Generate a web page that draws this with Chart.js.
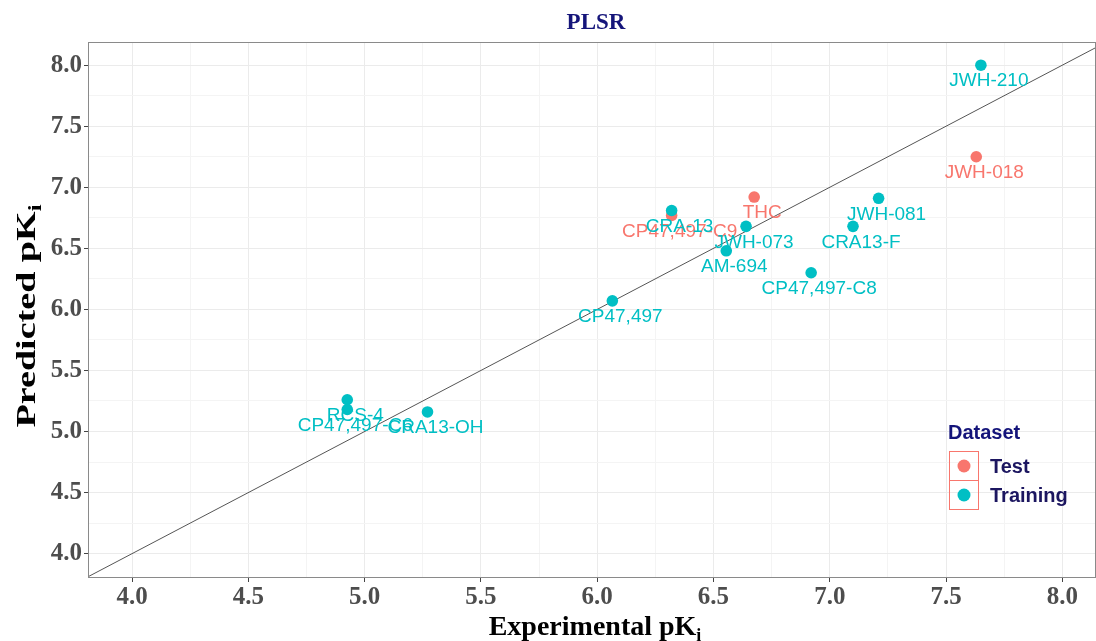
<!DOCTYPE html>
<html>
<head>
<meta charset="utf-8">
<title>PLSR</title>
<script src="https://cdn.jsdelivr.net/npm/chart.js@4.4.1/dist/chart.umd.min.js"></script>
<style>
    html, body { margin: 0; padding: 0; background: #fff; overflow: hidden; }
    canvas { display: block; }
</style>
</head>
<body>
<canvas id="plsr" width="1096" height="641"></canvas>
<script>
// data
const testNames = ['JWH-018', 'THC', 'CP47,497-C9'];
const testX = [7.63, 6.675, 6.32];
const testY = [7.25, 6.92, 6.77];

const trainNames = ['JWH-210', 'CRA-13', 'JWH-073', 'AM-694', 'JWH-081', 'CRA13-F',
    'CP47,497-C8', 'CP47,497', 'RCS-4', 'CP47,497-C6', 'CRA13-OH'];
const trainX = [7.65, 6.32, 6.64, 6.555, 7.21, 7.10, 6.92, 6.065, 4.925, 4.925, 5.27];
const trainY = [8.00, 6.81, 6.68, 6.48, 6.91, 6.68, 6.30, 6.07, 5.26, 5.18, 5.16];

const xRange = [3.81, 8.145];
const yRange = [3.8, 8.19];

const testColor = '#F8766D';
const trainColor = '#00BFC4';

function toPoints(xs, ys) {
    return xs.map((x, i) => ({ x: x, y: ys[i] }));
}

function isMajor(v) {
    return Math.abs(v * 2 - Math.round(v * 2)) < 1e-6;
}

// ggplot style grid: a line every 0.25, labels every 0.5
function quarterTicks(scale) {
    const ticks = [];
    for (let k = Math.ceil(scale.min * 4); k <= Math.floor(scale.max * 4); k++) {
        ticks.push({ value: k / 4 });
    }
    scale.ticks = ticks;
}

// panel border + titles + legend, drawn by hand
const decorations = {
    id: 'decorations',
    afterDraw(chart) {
        const c = chart.ctx;
        const a = chart.chartArea;
        c.save();
        c.strokeStyle = '#8a8a8a';
        c.lineWidth = 1;
        c.strokeRect(a.left + 0.5, a.top + 0.5, a.right - a.left - 1, a.bottom - a.top - 1);

        // main title
        c.fillStyle = '#15157a';
        c.font = 'bold 23px "Liberation Serif"';
        c.textAlign = 'center';
        c.textBaseline = 'alphabetic';
        c.fillText('PLSR', 596, 29);

        // axis titles with subscript i
        c.fillStyle = '#000';
        const big = 'bold 28px "Liberation Serif"';
        const small = 'bold 18px "Liberation Serif"';
        c.font = big;
        const xt = 'Experimental pK';
        const w1 = c.measureText(xt).width;
        c.font = small;
        const w2 = c.measureText('i').width;
        let x0 = 595 - (w1 + w2) / 2;
        c.textAlign = 'left';
        c.font = big;
        c.fillText(xt, x0, 635);
        c.font = small;
        c.fillText('i', x0 + w1, 641);

        // y title is stretched along its length in the original
        c.save();
        c.translate(35, 316);
        c.rotate(-Math.PI / 2);
        c.scale(1.36, 1);
        c.font = big;
        const yt = 'Predicted pK';
        const v1 = c.measureText(yt).width;
        x0 = -(v1 + w2) / 2;
        c.fillText(yt, x0, 0);
        c.font = small;
        c.fillText('i', x0 + v1, 6);
        c.restore();

        // legend
        c.fillStyle = '#14147a';
        c.font = 'bold 20px "Liberation Sans"';
        c.textBaseline = 'middle';
        c.fillText('Dataset', 948, 433);
        const keys = [['Test', testColor], ['Training', trainColor]];
        keys.forEach((k, i) => {
            const ky = 451 + i * 29;
            c.strokeStyle = testColor;
            c.lineWidth = 1;
            c.strokeRect(949.5, ky + 0.5, 29, 29);
            c.fillStyle = k[1];
            c.beginPath();
            c.arc(964, ky + 15, 6.5, 0, Math.PI * 2);
            c.fill();
            c.fillStyle = '#1c1660';
            c.fillText(k[0], 990, ky + 16);
        });
        c.restore();
    }
};

// point labels, test first so training text sits on top
const pointLabels = {
    id: 'pointLabels',
    afterDatasetsDraw(chart) {
        const c = chart.ctx;
        c.save();
        c.font = '19px "Liberation Sans"';
        c.textAlign = 'center';
        c.textBaseline = 'middle';
        [[1, testNames, testColor], [0, trainNames, trainColor]].forEach(([di, names, col]) => {
            const meta = chart.getDatasetMeta(di);
            c.fillStyle = col;
            meta.data.forEach((pt, i) => {
                c.fillText(names[i], pt.x + 8, pt.y + 16);
            });
        });
        c.restore();
    }
};

const gridColor = ctx => isMajor(ctx.tick.value) ? '#ebebeb' : '#f4f4f4';
const tickMarkColor = ctx => isMajor(ctx.tick.value) ? '#444' : 'rgba(0,0,0,0)';
const tickFont = { family: '"Liberation Serif"', size: 25, weight: 'bold' };

new Chart(document.getElementById('plsr'), {
    type: 'scatter',
    data: {
        datasets: [
            {
                label: 'Training',
                data: toPoints(trainX, trainY),
                backgroundColor: trainColor,
                borderWidth: 0,
                pointRadius: 5.8,
                order: 0
            },
            {
                label: 'Test',
                data: toPoints(testX, testY),
                backgroundColor: testColor,
                borderWidth: 0,
                pointRadius: 5.8,
                order: 1
            },
            {
                type: 'line',
                label: 'y = x',
                data: [{ x: xRange[0], y: xRange[0] }, { x: xRange[1], y: xRange[1] }],
                borderColor: '#555',
                borderWidth: 1,
                pointRadius: 0,
                fill: false,
                order: 2
            }
        ]
    },
    options: {
        responsive: false,
        animation: false,
        layout: { autoPadding: false, padding: { top: 42, right: 0, left: 0, bottom: 0 } },
        plugins: {
            legend: { display: false },
            tooltip: { enabled: false }
        },
        scales: {
            x: {
                type: 'linear',
                min: xRange[0],
                max: xRange[1],
                afterBuildTicks: quarterTicks,
                afterFit: s => { s.height = 63; s.paddingLeft = 0; s.paddingRight = 0; },
                border: { display: false },
                grid: { color: gridColor, tickColor: tickMarkColor, tickLength: 4 },
                ticks: {
                    autoSkip: false,
                    maxRotation: 0,
                    padding: 1,
                    color: '#4d4d4d',
                    font: tickFont,
                    callback: v => isMajor(v) ? v.toFixed(1) : ''
                }
            },
            y: {
                type: 'linear',
                min: yRange[0],
                max: yRange[1],
                afterBuildTicks: quarterTicks,
                afterFit: s => { s.width = 88; s.paddingTop = 0; s.paddingBottom = 0; },
                border: { display: false },
                grid: { color: gridColor, tickColor: tickMarkColor, tickLength: 4 },
                ticks: {
                    autoSkip: false,
                    padding: 2,
                    color: '#4d4d4d',
                    font: tickFont,
                    callback: v => isMajor(v) ? v.toFixed(1) : ''
                }
            }
        }
    },
    plugins: [pointLabels, decorations]
});
</script>
</body>
</html>
